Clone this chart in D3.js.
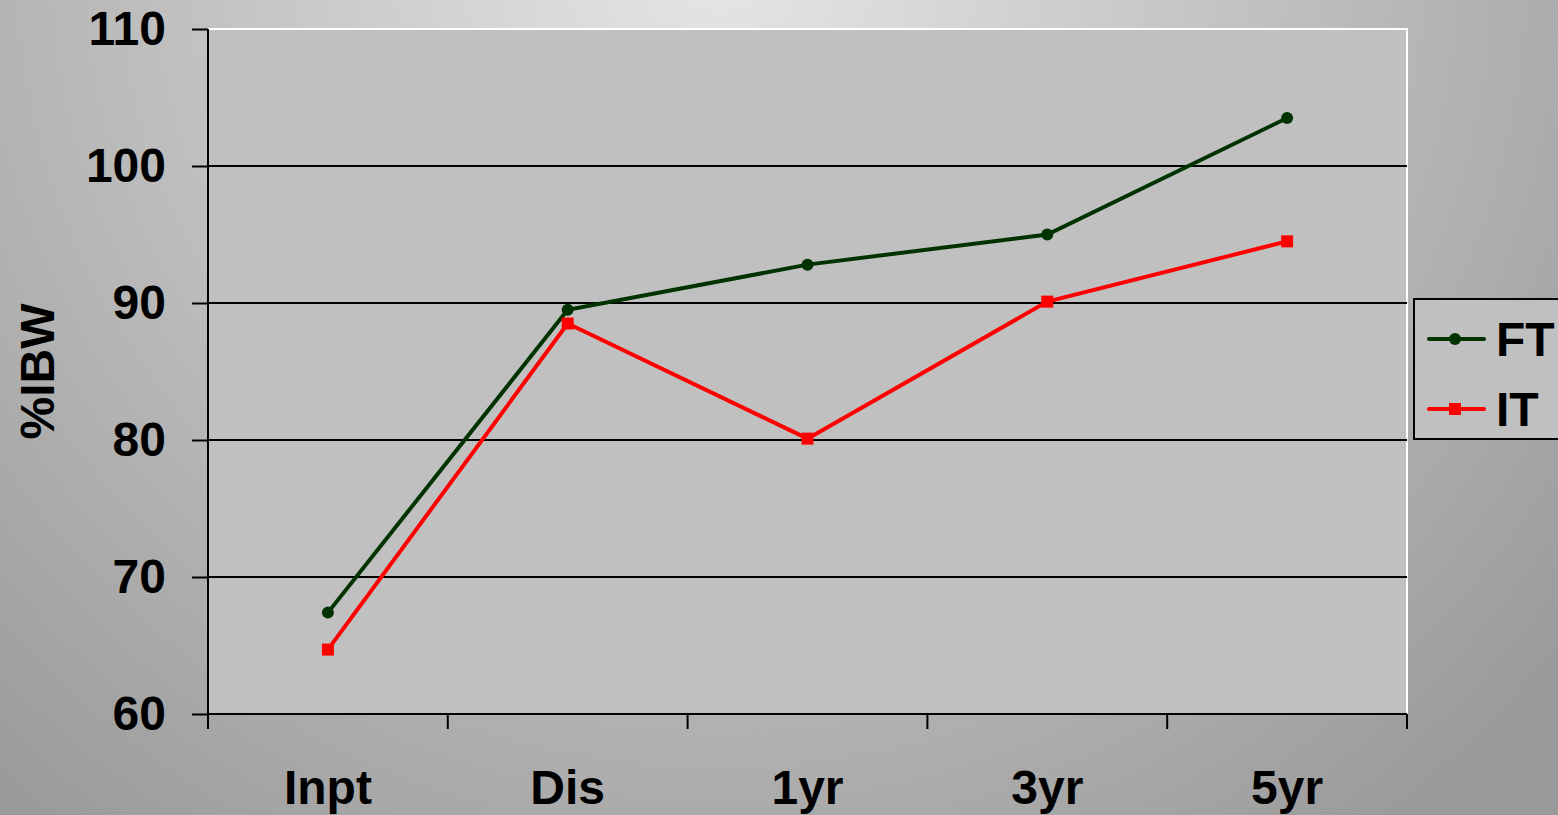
<!DOCTYPE html>
<html>
<head>
<meta charset="utf-8">
<script src="https://cdn.jsdelivr.net/npm/d3@7"></script>
<style>
  body { margin: 0; overflow: hidden; }
  text { font-family: "Liberation Sans", Arial, sans-serif; font-weight: bold; }
</style>
</head>
<body>
<script>
const width = 1558;
const height = 815;

// data
const categories = ["Inpt", "Dis", "1yr", "3yr", "5yr"];
const ftValues = [67.4, 89.5, 92.8, 95.0, 103.5];
const itValues = [64.7, 88.5, 80.1, 90.1, 94.5];
const yTicks = [60, 70, 80, 90, 100, 110];

const plot = { left: 208, right: 1407, top: 29, bottom: 714 };
const fontSize = 48;

const svg = d3.select("body").append("svg")
    .attr("width", width)
    .attr("height", height);

const defs = svg.append("defs");
const grad = defs.append("radialGradient")
    .attr("id", "bg")
    .attr("gradientUnits", "userSpaceOnUse")
    .attr("cx", 720).attr("cy", -40)
    .attr("r", 1100);
grad.append("stop").attr("offset", "0%").attr("stop-color", "#e6e6e6");
grad.append("stop").attr("offset", "100%").attr("stop-color", "#9a9a9a");

svg.append("rect")
    .attr("width", width)
    .attr("height", height)
    .attr("fill", "url(#bg)");

const x = d3.scaleBand()
    .domain(categories)
    .range([plot.left, plot.right]);

const y = d3.scaleLinear()
    .domain([60, 110])
    .range([plot.bottom, plot.top]);

// plot area
svg.append("rect")
    .attr("x", plot.left)
    .attr("y", plot.top)
    .attr("width", plot.right - plot.left)
    .attr("height", plot.bottom - plot.top)
    .attr("fill", "#c0c0c0");

// white border top + right
svg.append("path")
    .attr("d", `M${plot.left},${plot.top}H${plot.right}V${plot.bottom}`)
    .attr("fill", "none")
    .attr("stroke", "#ffffff")
    .attr("stroke-width", 2);

// gridlines
svg.append("g").selectAll("line")
    .data(yTicks.filter(d => d > 60 && d < 110))
    .join("line")
    .attr("x1", plot.left)
    .attr("x2", plot.right)
    .attr("y1", d => y(d))
    .attr("y2", d => y(d))
    .attr("stroke", "#000")
    .attr("stroke-width", 2);

// y axis
const yAxis = svg.append("g")
    .attr("transform", `translate(${plot.left},0)`)
    .call(d3.axisLeft(y).tickValues(yTicks).tickSize(16).tickPadding(26));
yAxis.select(".domain").attr("stroke", "#000").attr("stroke-width", 2)
    .attr("d", `M0,${plot.top}V${plot.bottom}`);
yAxis.selectAll(".tick line").attr("stroke", "#000").attr("stroke-width", 2);
yAxis.selectAll(".tick text")
    .attr("font-size", fontSize)
    .attr("font-family", "'Liberation Sans', Arial, sans-serif")
    .attr("font-weight", "bold")
    .attr("fill", "#000");

// x axis
const xAxis = svg.append("g")
    .attr("transform", `translate(0,${plot.bottom})`)
    .call(d3.axisBottom(x).tickSize(0).tickPadding(54));
xAxis.select(".domain").attr("stroke", "#000").attr("stroke-width", 2)
    .attr("d", `M${plot.left},0H${plot.right}`);
xAxis.selectAll(".tick text")
    .attr("font-size", fontSize)
    .attr("font-family", "'Liberation Sans', Arial, sans-serif")
    .attr("font-weight", "bold")
    .attr("fill", "#000")
    .attr("dy", "0.75em");

// category separator ticks
const sepPositions = categories.map(c => x(c)).concat([x(categories[categories.length - 1]) + x.bandwidth()]);
xAxis.append("g").selectAll("line")
    .data(sepPositions)
    .join("line")
    .attr("x1", d => d)
    .attr("x2", d => d)
    .attr("y1", 0)
    .attr("y2", 15)
    .attr("stroke", "#000")
    .attr("stroke-width", 2);

// y title
svg.append("text")
    .attr("transform", `translate(54,${(plot.top + plot.bottom) / 2}) rotate(-90)`)
    .attr("text-anchor", "middle")
    .attr("font-size", fontSize)
    .attr("fill", "#000")
    .text("%IBW");

const cx = d => x(d) + x.bandwidth() / 2;
const line = vals => d3.line()
    .x((d, i) => cx(categories[i]))
    .y(d => y(d))(vals);

// FT series
svg.append("path")
    .attr("d", line(ftValues))
    .attr("fill", "none")
    .attr("stroke", "#003300")
    .attr("stroke-width", 4);
svg.append("g").selectAll("circle")
    .data(ftValues)
    .join("circle")
    .attr("cx", (d, i) => cx(categories[i]))
    .attr("cy", d => y(d))
    .attr("r", 6)
    .attr("fill", "#003300");

// IT series
svg.append("path")
    .attr("d", line(itValues))
    .attr("fill", "none")
    .attr("stroke", "#ff0000")
    .attr("stroke-width", 4);
svg.append("g").selectAll("rect")
    .data(itValues)
    .join("rect")
    .attr("x", (d, i) => cx(categories[i]) - 6)
    .attr("y", d => y(d) - 6)
    .attr("width", 12)
    .attr("height", 12)
    .attr("fill", "#ff0000");

// legend
const legend = svg.append("g");
legend.append("rect")
    .attr("x", 1414)
    .attr("y", 299)
    .attr("width", 160)
    .attr("height", 140)
    .attr("fill", "#c0c0c0")
    .attr("stroke", "#000")
    .attr("stroke-width", 2);

const legendItems = [
    { name: "FT", color: "#003300", shape: "circle", y: 339 },
    { name: "IT", color: "#ff0000", shape: "square", y: 409 }
];
legendItems.forEach(item => {
    legend.append("line")
        .attr("x1", 1429).attr("x2", 1484)
        .attr("y1", item.y).attr("y2", item.y)
        .attr("stroke", item.color)
        .attr("stroke-width", 4)
        .attr("stroke-linecap", "round");
    if (item.shape === "circle") {
        legend.append("circle")
            .attr("cx", 1455).attr("cy", item.y).attr("r", 6)
            .attr("fill", item.color);
    } else {
        legend.append("rect")
            .attr("x", 1449).attr("y", item.y - 6)
            .attr("width", 12).attr("height", 12)
            .attr("fill", item.color);
    }
    legend.append("text")
        .attr("x", 1496)
        .attr("y", item.y)
        .attr("dy", "0.36em")
        .attr("font-size", fontSize)
        .attr("fill", "#000")
        .text(item.name);
});
</script>
</body>
</html>
